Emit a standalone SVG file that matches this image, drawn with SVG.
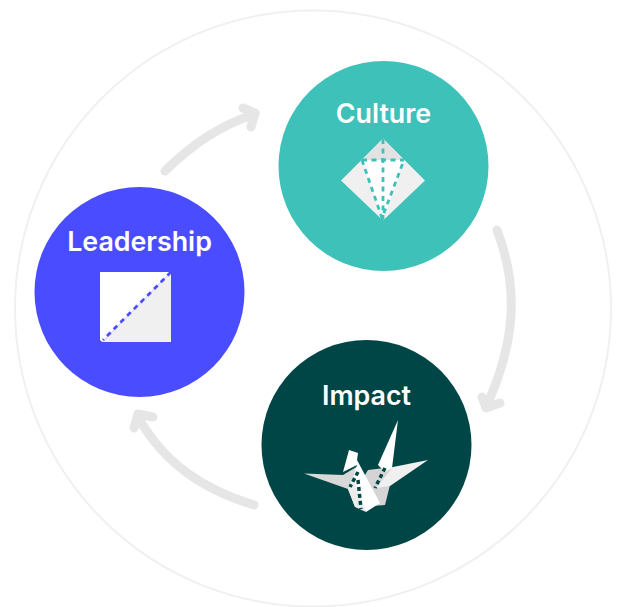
<svg xmlns="http://www.w3.org/2000/svg" width="621" height="607" viewBox="0 0 621 607">
<style>
.lbl{font-family:"Inter","Liberation Sans",sans-serif;font-weight:600;font-size:26.8px;fill:#fff;text-anchor:middle}
.arc{fill:none;stroke:#e6e6e6;stroke-width:9;stroke-linecap:round;stroke-linejoin:round}
.fold{fill:none;stroke-width:2.800;stroke-dasharray:5 4.500}
.crane{fill:none;stroke:#004646;stroke-width:3.500;stroke-dasharray:4 3}
</style>
<rect width="621" height="607" fill="#fff"/>
<circle id="ring" cx="313" cy="308.500" r="298" fill="none" stroke="#f0f0f0" stroke-width="2"/>
<g id="connectors">
<path class="arc" d="M165 171C190 146 220 125 255 114M243 108L255 113L251 127"/>
<path class="arc" d="M497 230C518 285 517 340 486 407M482 397L486 408L500 403"/>
<path class="arc" d="M254 505C205 490 165 465 138 417M134 428L138 414L153 417"/>
</g>
<g id="culture">
<circle cx="383.500" cy="166" r="105" fill="#3ec1b9"/>
<text class="lbl" x="383.500" y="123">Culture</text>
<path d="M383 138.500L425 180.500L383 220.500L341 180.500Z" fill="#f0f0f0"/>
<path d="M383 138.500L404 160L362 160Z" fill="#e2e2e2"/>
<path d="M362 160L404 160L383 220.500Z" fill="#fff"/>
<path class="fold" stroke="#3ec1b9" d="M362 160H404M383 139V220M362 160L382 218L404 160"/>
</g>
<g id="leadership">
<circle cx="139.500" cy="292" r="105" fill="#4a4cff"/>
<text class="lbl" x="139.500" y="251">Leadership</text>
<path d="M100 272H171L102 342L100 340Z" fill="#fff"/>
<path d="M171 272V342H102Z" fill="#f0f0f0"/>
<path class="fold" stroke="#4a4cff" d="M171 272L103 340"/>
</g>
<g id="impact">
<circle cx="366.500" cy="445" r="105" fill="#004646"/>
<text class="lbl" x="366.500" y="405">Impact</text>
<path d="M304 473.500L343 475L358 466L366 495L355 507L348 489Z" fill="#d8d8d8"/>
<path d="M368 470L393 467L390 485L385 505L372 506L362 480Z" fill="#d4d4d4"/>
<path d="M393 467L428 460L390 486L376 488Z" fill="#f0f0f0"/>
<path d="M378 465L398 420L392 468L385 472Z" fill="#fff"/>
<path d="M348 489L355 472L366 512L355 507Z" fill="#ececec"/>
<path d="M343 472L349 450L358 453L357 460L380 503L366 512L353 478L357 465Z" fill="#fff"/>
<path class="crane" d="M358 472L350 487M358 480L361 509M385 468L375 488"/>
</g>
</svg>
